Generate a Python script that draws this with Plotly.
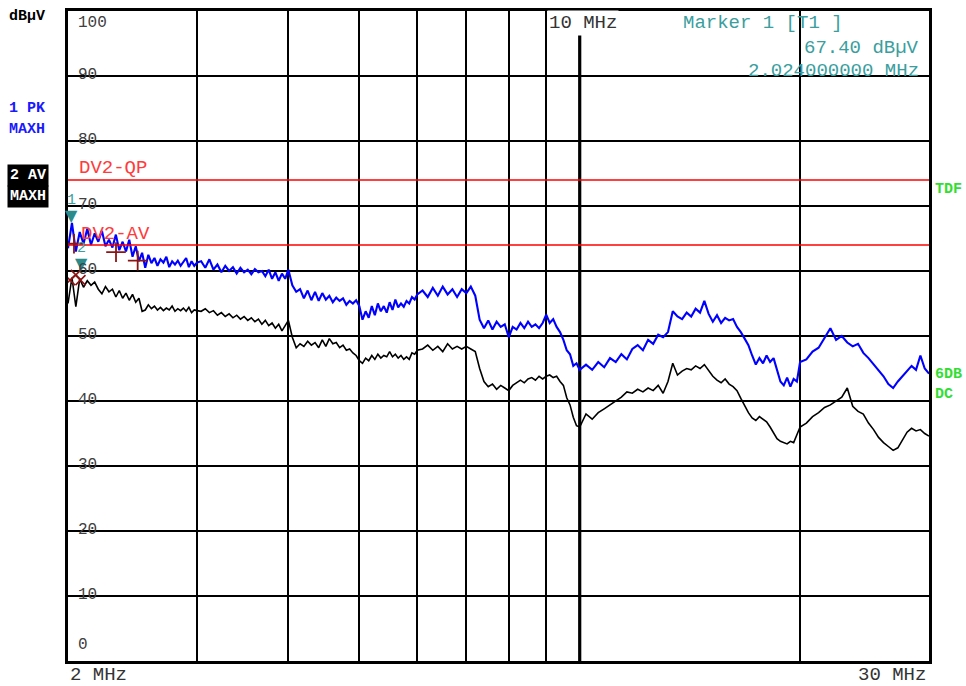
import math
import plotly.graph_objects as go

# ---------------- data ----------------
FREQ_MHZ = [
    2.000, 2.025, 2.050, 2.075, 2.100, 2.125, 2.150, 2.175, 2.200, 2.225,
    2.250, 2.275, 2.300, 2.325, 2.350, 2.375, 2.400, 2.425, 2.450, 2.475,
    2.500, 2.525, 2.550, 2.575, 2.600, 2.625, 2.650, 2.675, 2.700, 2.725,
    2.750, 2.775, 2.800, 2.825, 2.850, 2.875, 2.900, 2.925, 2.950, 2.975, 3.000,
    3.04, 3.08, 3.12, 3.16, 3.20, 3.24, 3.28, 3.32, 3.36, 3.40, 3.44, 3.48, 3.52,
    3.56, 3.60, 3.64, 3.68, 3.72, 3.76, 3.80, 3.84, 3.88, 3.92, 3.96, 4.00,
    4.05, 4.10, 4.15, 4.20, 4.25, 4.30, 4.35, 4.40, 4.45, 4.50, 4.55, 4.60, 4.65,
    4.70, 4.75, 4.80, 4.85, 4.90, 4.95, 5.00, 5.05, 5.10, 5.15, 5.20, 5.25, 5.30,
    5.35, 5.40, 5.45, 5.50, 5.55, 5.60, 5.65, 5.70, 5.75, 5.80, 5.85, 5.90, 5.95, 6.00,
    6.1, 6.2, 6.3, 6.4, 6.5, 6.6, 6.7, 6.8, 6.9, 7.0, 7.1, 7.2, 7.3, 7.4, 7.5, 7.6,
    7.7, 7.8, 7.9, 8.0, 8.1, 8.2, 8.3, 8.4, 8.5, 8.6, 8.7, 8.8, 8.9, 9.0, 9.1, 9.2,
    9.3, 9.4, 9.5, 9.6, 9.7, 9.8, 9.9, 10.0,
    10.2, 10.4, 10.6, 10.8, 11.0, 11.2, 11.4, 11.6, 11.8, 12.0, 12.2, 12.4, 12.6,
    12.8, 13.0, 13.2, 13.4, 13.6, 13.8, 14.0, 14.2, 14.4, 14.6, 14.8, 15.0, 15.2,
    15.4, 15.6, 15.8, 16.0, 16.2, 16.4, 16.6, 16.8, 17.0, 17.2, 17.4, 17.6, 17.8,
    18.0, 18.2, 18.4, 18.6, 18.8, 19.0, 19.2, 19.4, 19.6, 19.8, 20.0,
    20.4, 20.8, 21.2, 21.6, 22.0, 22.4, 22.8, 23.2, 23.6, 24.0, 24.4, 24.8, 25.2,
    25.6, 26.0, 26.4, 26.8, 27.2, 27.6, 28.0, 28.4, 28.8, 29.2, 29.6, 30.0,
]

PK_DBUV = [  # trace 1, PK MAXH (blue)
    63.5, 67.4, 63.0, 66.0, 64.2, 66.5, 64.0, 65.8, 64.5, 66.2,
    63.8, 64.8, 63.6, 65.6, 63.2, 64.5, 63.0, 64.8, 62.2, 63.8,
    61.5, 62.8, 60.5, 62.5, 61.2, 62.0, 60.8, 61.8, 61.3, 62.2,
    60.6, 61.5, 61.0, 61.6, 60.8, 61.4, 62.0, 60.6, 61.5, 60.8, 61.3,
    61.5, 60.5, 61.8, 60.2, 61.0, 59.8, 60.8, 60.0, 60.6, 59.6, 60.5, 59.8, 60.2,
    59.5, 60.3, 59.8, 60.0, 59.2, 60.2, 58.8, 59.8, 58.5, 59.6, 58.8, 60.2,
    57.8, 56.8, 57.2, 55.8, 57.0, 55.5, 56.8, 55.4, 56.6, 55.6, 56.2, 55.2, 55.9,
    55.4, 55.8, 54.8, 55.4, 55.0, 55.5, 54.6, 52.5, 53.8, 52.8, 54.6, 53.2, 55.0,
    53.8, 54.6, 53.6, 55.2, 54.0, 55.6, 54.4, 55.0, 54.5, 55.4, 55.0, 56.0, 55.6, 56.4,
    57.0, 56.0, 57.4, 56.2, 57.6, 56.4, 57.2, 56.0, 57.2, 56.6, 57.6, 56.2, 52.5, 51.2, 52.4, 51.0,
    52.2, 51.4, 51.8, 49.8, 51.4, 51.0, 52.0, 51.2, 52.2, 51.4, 51.8, 51.2, 52.0, 53.3, 52.0, 52.6,
    51.4, 50.6, 49.4, 47.8, 47.2, 45.4, 45.8, 44.8,
    45.6, 44.8, 46.0, 45.2, 46.6, 46.0, 47.2, 46.4, 48.0, 48.6, 47.8, 49.4, 48.8,
    50.2, 49.8, 50.6, 53.8, 53.0, 52.6, 53.6, 53.0, 54.2, 53.6, 55.4, 53.4, 52.2,
    53.2, 52.0, 52.8, 52.4, 52.6, 51.4, 50.6, 49.6, 48.6, 47.0, 45.6, 46.6, 45.8,
    47.0, 46.0, 46.6, 44.8, 43.0, 42.4, 43.6, 42.2, 43.4, 43.0, 46.0,
    46.4, 47.6, 48.2, 49.8, 51.2, 49.4, 50.0, 49.0, 48.4, 48.8, 47.4, 46.6, 45.6,
    44.6, 43.8, 42.6, 42.0, 43.0, 43.8, 44.6, 45.4, 44.8, 47.0, 45.0, 44.2,
]

AV_DBUV = [  # trace 2, AV MAXH (black)
    55.0, 59.0, 54.5, 58.8, 57.5, 58.5, 57.8, 58.3, 57.2, 56.5,
    57.6, 56.8, 57.2, 56.0, 57.0, 55.8, 56.6, 55.5, 56.4, 55.2,
    55.8, 53.8, 54.0, 54.8, 54.2, 54.6, 54.0, 54.4, 53.9, 54.3,
    54.0, 54.6, 53.8, 54.2, 53.9, 54.3, 53.8, 54.4, 53.6, 54.0, 53.9,
    53.8, 54.2, 53.6, 53.9, 53.2, 53.6, 53.0, 53.4, 52.8, 53.2, 52.6, 53.0, 52.4,
    52.8, 52.2, 52.6, 51.8, 52.4, 51.6, 52.0, 51.2, 51.8, 50.8, 51.6, 52.4,
    49.8, 48.2, 48.8, 48.4, 49.2, 48.6, 49.0, 48.2, 49.4, 48.4, 49.6, 48.8, 49.0,
    48.2, 48.6, 47.8, 48.0, 47.4, 47.0, 46.2, 45.8, 46.6, 46.2, 47.0, 46.4, 47.2,
    46.6, 47.0, 46.8, 47.6, 46.8, 47.2, 46.6, 47.0, 46.4, 46.8, 46.4, 47.4, 47.2, 47.8,
    48.0, 48.6, 47.8, 48.4, 47.6, 48.8, 48.0, 48.4, 48.0, 48.4, 48.0, 47.6, 45.0, 43.0, 42.2, 42.6,
    41.8, 42.4, 42.0, 41.6, 42.4, 42.8, 43.2, 42.8, 43.4, 43.6, 43.2, 43.8, 43.4, 43.8, 44.0, 43.6,
    43.8, 43.0, 42.4, 40.5, 39.4, 37.5, 36.2, 36.0,
    38.0, 37.2, 38.2, 38.8, 39.4, 40.0, 40.6, 41.4, 41.2, 41.8, 41.4, 42.0, 41.6,
    42.4, 41.2, 43.0, 45.8, 44.0, 44.6, 45.0, 44.8, 45.4, 45.0, 45.6, 44.6, 43.8,
    43.2, 42.8, 43.4, 42.6, 42.2, 41.6, 40.4, 39.2, 38.2, 37.4, 37.0, 37.6, 37.2,
    36.8, 36.0, 35.0, 34.2, 33.8, 33.6, 33.4, 33.8, 33.6, 34.8, 36.0,
    36.6, 37.6, 38.2, 39.0, 39.4, 40.0, 40.6, 42.0, 39.2, 38.4, 38.0, 36.6, 35.6,
    34.4, 33.6, 33.0, 32.4, 32.8, 34.0, 35.2, 35.8, 35.4, 35.6, 35.0, 34.6,
]

LIMIT_NAMES = ["DV2-QP", "DV2-AV"]
LIMIT_DBUV = [74.0, 64.0]

MARKER_FREQ = [2.024, 2.09]
MARKER_DBUV = [67.4, 60.0]
MARKER_LABELS = ["1", "2"]

QP_FINAL_FREQ = [2.038, 2.326, 2.49]
QP_FINAL_DBUV = [64.2, 62.9, 61.6]
AV_FINAL_FREQ = [2.013, 2.05, 2.08]
AV_FINAL_DBUV = [58.6, 59.4, 58.6]

Y_TICKS = [0, 10, 20, 30, 40, 50, 60, 70, 80, 90, 100]
X_GRID_MHZ = [3, 4, 5, 6, 7, 8, 9, 10, 20]
X_MAJOR_MHZ = 10
F_START, F_STOP = 2, 30

# ---------------- styling ----------------
MONO = "Liberation Mono, Courier New, monospace"
TEAL = "#3a9e9e"
TEAL_DARK = "#2b8a8a"
DARKRED = "#8b1515"
GREEN = "#33dd33"

fig = go.Figure()

fig.add_trace(go.Scatter(x=FREQ_MHZ, y=AV_DBUV, mode="lines",
                         line=dict(color="black", width=1.6), hoverinfo="skip"))
fig.add_trace(go.Scatter(x=FREQ_MHZ, y=PK_DBUV, mode="lines",
                         line=dict(color="#0000ff", width=2.1), hoverinfo="skip"))

for val in LIMIT_DBUV:
    fig.add_trace(go.Scatter(x=[F_START, F_STOP], y=[val, val], mode="lines",
                             line=dict(color="#ff0000", width=1.6), hoverinfo="skip"))

fig.add_trace(go.Scatter(x=QP_FINAL_FREQ, y=QP_FINAL_DBUV, mode="markers",
                         marker=dict(symbol="cross-thin", size=14,
                                     line=dict(color=DARKRED, width=1.8)),
                         hoverinfo="skip"))
fig.add_trace(go.Scatter(x=AV_FINAL_FREQ, y=AV_FINAL_DBUV, mode="markers",
                         marker=dict(symbol="x-thin", size=10,
                                     line=dict(color=DARKRED, width=1.6)),
                         hoverinfo="skip"))

fig.update_layout(
    width=966, height=686,
    margin=dict(l=68, r=37, t=8, b=25),
    paper_bgcolor="white", plot_bgcolor="white",
    showlegend=False,
    xaxis=dict(type="log", range=[math.log10(F_START), math.log10(F_STOP)],
               tickvals=X_GRID_MHZ, showticklabels=False, ticks="",
               showgrid=True, gridcolor="black", gridwidth=1.5,
               showline=True, linecolor="black", linewidth=3, mirror=True,
               zeroline=False),
    yaxis=dict(range=[Y_TICKS[0], Y_TICKS[-1]], tickvals=Y_TICKS[1:-1],
               showticklabels=False, ticks="",
               showgrid=True, gridcolor="black", gridwidth=1.5,
               showline=True, linecolor="black", linewidth=3, mirror=True,
               zeroline=False),
)

# marker triangles with their tip on the marked point, and their numbers above
for f, v, lab in zip(MARKER_FREQ, MARKER_DBUV, MARKER_LABELS):
    fig.add_annotation(xref="x", yref="y", x=math.log10(f), y=v, text="▼",
                       showarrow=False, xanchor="center", yanchor="bottom",
                       yshift=-4, font=dict(family="DejaVu Sans", size=16, color=TEAL_DARK))
    fig.add_annotation(xref="x", yref="y", x=math.log10(f), y=v, text=lab,
                       showarrow=False, xanchor="center", yanchor="bottom",
                       yshift=12, font=dict(family=MONO, size=15, color=TEAL))

# thick 10 MHz line
fig.add_shape(type="line", xref="x", yref="paper", x0=X_MAJOR_MHZ, x1=X_MAJOR_MHZ,
              y0=0, y1=1, line=dict(color="black", width=3.2), layer="between")

# y labels inside the plot, with white background behind them (under traces)
for v in Y_TICKS:
    if v in (Y_TICKS[0], Y_TICKS[-1]):
        continue
    fig.add_shape(type="rect", xref="paper", yref="y", x0=0.005, x1=0.034,
                  y0=v - 1.0, y1=v + 1.0, fillcolor="white",
                  line=dict(width=0), layer="between")
    fig.add_annotation(xref="paper", yref="y", x=0, y=v, xanchor="left",
                       yanchor="middle", xshift=8, yshift=1, text=str(v), showarrow=False,
                       font=dict(family=MONO, size=16, color="#404040"))
fig.add_annotation(xref="paper", yref="paper", x=0, y=0.9816, xanchor="left",
                   yanchor="middle", xshift=8, text=str(Y_TICKS[-1]), showarrow=False,
                   font=dict(family=MONO, size=16, color="#404040"))
fig.add_annotation(xref="paper", yref="paper", x=0, y=0.0245, xanchor="left",
                   yanchor="middle", xshift=8, text=str(Y_TICKS[0]), showarrow=False,
                   font=dict(family=MONO, size=16, color="#404040"))

def ann(text, x, y, xanchor="left", color="black", size=19, bold=False,
        bg=None, xref="paper", xshift=0, pad=0):
    if bold:
        text = "<b>" + text + "</b>"
    fig.add_annotation(xref=xref, yref="paper", x=x, y=y, xanchor=xanchor,
                       yanchor="middle", text=text, showarrow=False, xshift=xshift,
                       bgcolor=bg, borderpad=pad,
                       font=dict(family=MONO, size=size, color=color))

# frequency labels
ann(f"{F_START} MHz", 0, -0.021, xshift=1, color="#333333")
ann(f"{F_STOP} MHz", 1, -0.021, xanchor="right", xshift=-2, color="#333333")
ann(f"{X_MAJOR_MHZ} MHz", math.log10(X_MAJOR_MHZ), 0.9816, xanchor="center",
    xref="x", xshift=3, color="#333333", bg="white", pad=1)

# marker readout
ann("Marker 1 [T1 ]", 0.713, 0.9816, color=TEAL)
ann(f"{MARKER_DBUV[0]:.2f} dBµV", 0.9895, 0.9433, xanchor="right", color=TEAL)
ann(f"{MARKER_FREQ[0]:.9f} MHz", 0.9895, 0.9081, xanchor="right", color=TEAL)

# limit line names
ann(LIMIT_NAMES[0], 0.0116, 0.758, color="#ff3b3b")
ann(LIMIT_NAMES[1], 0.0139, 0.657, color="#ff3b3b")

# left trace info
ann("dBµV", 0, 0.9923, xshift=-60, size=15, bold=True)
ann("1 PK", 0, 0.850, xshift=-60, size=15, bold=True, color="#1a1aff")
ann("MAXH", 0, 0.818, xshift=-60, size=15, bold=True, color="#1a1aff")
ann("2 AV", 0, 0.7473, xshift=-61, size=15, bold=True, color="white", bg="black", pad=2)
ann("MAXH", 0, 0.715, xshift=-61, size=15, bold=True, color="white", bg="black", pad=2)

# right side flags
ann("TDF", 1, 0.726, xshift=5, size=15, bold=True, color=GREEN)
ann("6DB", 1, 0.441, xshift=5, size=15, bold=True, color=GREEN)
ann("DC", 1, 0.4104, xshift=5, size=15, bold=True, color=GREEN)

# page without default body margin so the 966x686 figure fills the window exactly
fig.write_html("out.html",
               config={"displayModeBar": False},
               post_script="document.body.style.margin='0';"
                           "document.body.style.overflow='hidden';")
